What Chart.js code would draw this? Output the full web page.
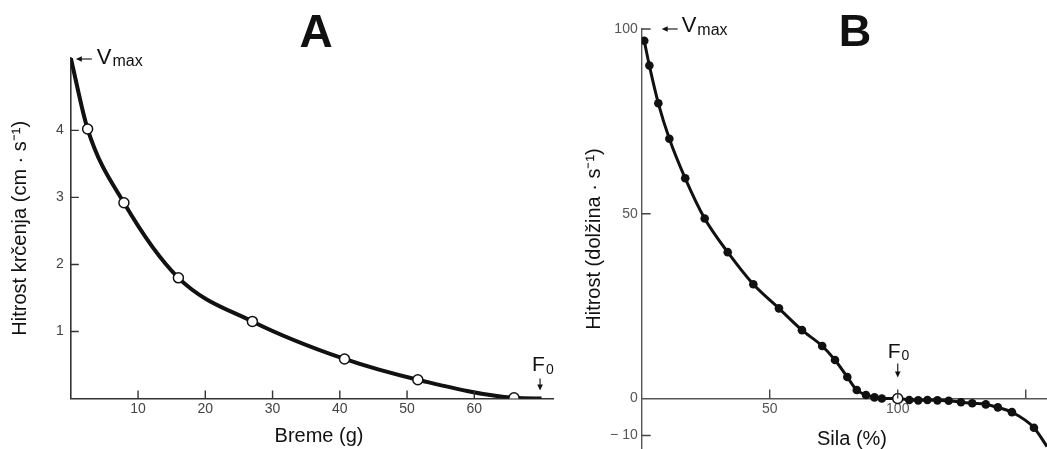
<!DOCTYPE html>
<html lang="sl">
<head>
<meta charset="UTF-8">
<title>Hitrost in breme / sila</title>
<script src="https://cdn.jsdelivr.net/npm/chart.js"></script>
<style>
  html, body { margin: 0; padding: 0; background: #fff; }
  body { width: 1047px; height: 449px; position: relative; overflow: hidden; }
  canvas { position: absolute; top: 0; }
  #chartA { left: 0; }
  #chartB { left: 570px; }
</style>
</head>
<body>
<canvas id="chartA" width="570" height="449"></canvas>
<canvas id="chartB" width="477" height="449"></canvas>
<script>
// A: breme (g) -> hitrost krcenja (cm/s), odprti krogci
const bremeG = [2.5, 7.9, 16.0, 27.0, 40.7, 51.6, 65.9];
const hitrostA = [4.02, 2.92, 1.80, 1.15, 0.59, 0.28, 0.01];
// krivulja A, odcitana od Vmax do F0
const krivuljaAx = [0, 2.5, 7.9, 16.0, 27.0, 40.7, 51.6, 65.9, 70];
const krivuljaAy = [5.08, 4.02, 2.92, 1.80, 1.15, 0.59, 0.28, 0.01, 0];
const yTicksA = [1, 2, 3, 4];
const xTicksA = [10, 20, 30, 40, 50, 60];

// B: sila (%) -> hitrost (dolzina/s), polni krogci
const silaB = [1.0, 3.0, 6.5, 10.8, 17.0, 24.6, 33.6, 43.6, 53.6, 62.6, 70.5, 75.5, 80.3, 84.0, 87.6, 90.9, 93.8,
               104.5, 108.0, 111.6, 115.5, 119.9, 124.7, 129.1, 134.4, 139.1, 144.6, 153.2];
const hitrostB = [96.8, 90.1, 79.9, 70.3, 59.6, 48.7, 39.6, 30.9, 24.4, 18.5, 14.2, 10.4, 5.8, 2.3, 0.95, 0.3, 0,
                  -0.4, -0.5, -0.4, -0.5, -0.6, -1.0, -1.3, -1.6, -2.4, -3.7, -7.9];
// F0 (odprti krogec)
const silaF0 = [100];
const hitrostF0 = [0];
// krivulja B
const krivuljaBx = [1.0, 3.0, 6.5, 10.8, 17.0, 24.6, 33.6, 43.6, 53.6, 62.6, 70.5, 75.5, 80.3, 84.0, 87.6, 90.9, 93.8, 100,
                    104.5, 108.0, 111.6, 115.5, 119.9, 124.7, 129.1, 134.4, 139.1, 144.6, 153.2, 158.3];
const krivuljaBy = [96.8, 90.1, 79.9, 70.3, 59.6, 48.7, 39.6, 30.9, 24.4, 18.5, 14.2, 10.4, 5.8, 2.3, 0.95, 0.3, 0, 0,
                    -0.4, -0.5, -0.4, -0.5, -0.6, -1.0, -1.3, -1.6, -2.4, -3.7, -7.9, -13.0];
const yTicksB = [-10, 0, 50, 100];
const xTicksB = [50, 100, 150];
const xLabelsB = ['50', '100', ''];

const FONT = "'Liberation Sans', Arial, sans-serif";
Chart.defaults.font.family = FONT;

const pts = (xs, ys) => xs.map((x, i) => ({ x, y: ys[i] }));

function arrow(ctx, x1, y1, x2, y2) {
  const a = Math.atan2(y2 - y1, x2 - x1), h = 6, w = 2.8;
  ctx.beginPath();
  ctx.moveTo(x1, y1);
  ctx.lineTo(x2 - Math.cos(a) * h * 0.7, y2 - Math.sin(a) * h * 0.7);
  ctx.stroke();
  ctx.beginPath();
  ctx.moveTo(x2, y2);
  ctx.lineTo(x2 - h * Math.cos(a) + w * Math.sin(a), y2 - h * Math.sin(a) - w * Math.cos(a));
  ctx.lineTo(x2 - h * Math.cos(a) - w * Math.sin(a), y2 - h * Math.sin(a) + w * Math.cos(a));
  ctx.closePath();
  ctx.fill();
}

function subText(ctx, x, y, main, sub, size, subSize, drop) {
  ctx.textAlign = 'left';
  ctx.textBaseline = 'alphabetic';
  ctx.font = size + 'px ' + FONT;
  ctx.fillText(main, x, y);
  const w = ctx.measureText(main).width;
  ctx.font = subSize + 'px ' + FONT;
  ctx.fillText(sub, x + w + 1, y + drop);
}

function innerTicks(chart, xs, ys, len, color) {
  const { ctx, chartArea, scales } = chart;
  const y0 = scales.y.getPixelForValue(Math.max(0, scales.y.min));
  ctx.save();
  ctx.strokeStyle = color;
  ctx.lineWidth = 1.4;
  ctx.beginPath();
  xs.forEach(v => {
    const px = scales.x.getPixelForValue(v);
    ctx.moveTo(px, y0);
    ctx.lineTo(px, y0 - len);
  });
  ys.forEach(v => {
    const py = scales.y.getPixelForValue(v);
    ctx.moveTo(chartArea.left, py);
    ctx.lineTo(chartArea.left + len, py);
  });
  ctx.stroke();
  ctx.restore();
}

const plugA = {
  id: 'plugA',
  afterDraw(chart) {
    const { ctx, scales } = chart;
    innerTicks(chart, xTicksA, yTicksA, 8, '#333');
    ctx.save();
    ctx.fillStyle = '#111';
    ctx.strokeStyle = '#222';
    ctx.lineWidth = 1.2;
    // Vmax
    const vx = scales.x.getPixelForValue(0), vy = scales.y.getPixelForValue(krivuljaAy[0]);
    arrow(ctx, vx + 21, vy + 1, vx + 5, vy + 1);
    subText(ctx, vx + 26, vy + 6, 'V', 'max', 22, 16, 2);
    // F0
    const fx = scales.x.getPixelForValue(70) - 1.5, fy = scales.y.getPixelForValue(0);
    arrow(ctx, fx, fy - 20, fx, fy - 8);
    subText(ctx, fx - 8, fy - 28, 'F', '0', 21, 14, 3);
    // naslov osi x
    ctx.font = '20px ' + FONT;
    ctx.textAlign = 'center';
    ctx.fillText('Breme (g)', 319, 442);
    // crka panela
    ctx.font = 'bold 46px ' + FONT;
    ctx.fillText('A', 316, 47);
    ctx.restore();
  }
};

const plugB = {
  id: 'plugB',
  afterDraw(chart) {
    const { ctx, scales } = chart;
    innerTicks(chart, xTicksB, [-10, 50, 100], 9, '#444');
    ctx.save();
    ctx.fillStyle = '#111';
    ctx.strokeStyle = '#222';
    ctx.lineWidth = 1.2;
    // Vmax
    const vx = scales.x.getPixelForValue(0), vy = scales.y.getPixelForValue(100);
    arrow(ctx, vx + 36, vy, vx + 20, vy);
    subText(ctx, vx + 40, vy + 3, 'V', 'max', 22, 16, 3);
    // F0
    const fx = scales.x.getPixelForValue(100), fy = scales.y.getPixelForValue(0);
    arrow(ctx, fx, fy - 35, fx, fy - 21);
    subText(ctx, fx - 10, fy - 40, 'F', '0', 21, 14, 2);
    // naslov osi x
    ctx.font = '20px ' + FONT;
    ctx.textAlign = 'center';
    ctx.fillText('Sila (%)', 282, 445);
    ctx.font = 'bold 45px ' + FONT;
    ctx.fillText('B', 285, 46);
    ctx.restore();
  }
};

new Chart(document.getElementById('chartA'), {
  type: 'scatter',
  data: {
    datasets: [
      { data: pts(bremeG, hitrostA), order: 0, pointRadius: 5, pointBackgroundColor: '#fff',
        pointBorderColor: '#111', pointBorderWidth: 1.5 },
      { data: pts(krivuljaAx, krivuljaAy), order: 1, showLine: true, borderColor: '#111', borderWidth: 4,
        pointRadius: 0, cubicInterpolationMode: 'monotone' }
    ]
  },
  options: {
    responsive: false,
    animation: false,
    layout: { autoPadding: false, padding: { top: 58, right: 17, left: 0, bottom: 0 } },
    plugins: { legend: { display: false }, tooltip: { enabled: false } },
    scales: {
      x: {
        type: 'linear', min: 0, max: 71.7,
        grid: { display: false, drawTicks: false },
        border: { color: '#333', width: 1.6 },
        afterBuildTicks: s => { s.ticks = xTicksA.map(v => ({ value: v })); },
        afterFit: s => { s.height = 50.5; s.paddingLeft = 0; s.paddingRight = 0; },
        ticks: { color: '#444', font: { size: 14 }, padding: 2, maxRotation: 0, autoSkip: false }
      },
      y: {
        type: 'linear', min: 0, max: 5.08,
        grid: { display: false, drawTicks: false },
        border: { color: '#333', width: 1.6 },
        afterBuildTicks: s => { s.ticks = yTicksA.map(v => ({ value: v })); },
        afterFit: s => { s.width = 70.8; s.paddingTop = 0; s.paddingBottom = 0; },
        ticks: { color: '#444', font: { size: 14 }, padding: 7 },
        title: { display: true, text: 'Hitrost krčenja (cm · s⁻¹)', color: '#111', font: { size: 20 }, padding: { top: 8, bottom: 0 } }
      }
    }
  },
  plugins: [plugA]
});

new Chart(document.getElementById('chartB'), {
  type: 'scatter',
  data: {
    datasets: [
      { data: pts(silaF0, hitrostF0), order: 0, pointRadius: 5, pointBackgroundColor: '#fff',
        pointBorderColor: '#111', pointBorderWidth: 1.5 },
      { data: pts(silaB, hitrostB), order: 1, pointRadius: 4.3, pointBackgroundColor: '#111',
        pointBorderColor: '#111', pointBorderWidth: 0 },
      { data: pts(krivuljaBx, krivuljaBy), order: 2, showLine: true, borderColor: '#111', borderWidth: 3,
        pointRadius: 0, cubicInterpolationMode: 'monotone' }
    ]
  },
  options: {
    responsive: false,
    animation: false,
    layout: { autoPadding: false, padding: { top: 29, right: 0, left: 0, bottom: 0 } },
    plugins: { legend: { display: false }, tooltip: { enabled: false } },
    scales: {
      x: {
        type: 'linear', min: 0, max: 158.3, position: { y: 0 },
        grid: { display: false, drawTicks: false },
        border: { color: '#555', width: 1.4 },
        afterBuildTicks: s => { s.ticks = xTicksB.map(v => ({ value: v })); },
        afterFit: s => { s.paddingLeft = 0; s.paddingRight = 0; },
        ticks: { color: '#555', font: { size: 14 }, padding: 2, maxRotation: 0, autoSkip: false,
                 callback: (v, i) => xLabelsB[i] }
      },
      y: {
        type: 'linear', min: -13.67, max: 100,
        grid: { display: false, drawTicks: false },
        border: { color: '#555', width: 1.4 },
        afterBuildTicks: s => { s.ticks = yTicksB.map(v => ({ value: v })); },
        afterFit: s => { s.width = 71.7; s.paddingTop = 0; s.paddingBottom = 0; },
        ticks: { color: '#555', font: { size: 14 }, padding: 4,
                 callback: v => v < 0 ? '− ' + Math.abs(v) : String(v) },
        title: { display: true, text: 'Hitrost (dolžina · s⁻¹)', color: '#111', font: { size: 20 }, padding: { top: 12, bottom: 0 } }
      }
    }
  },
  plugins: [plugB]
});
</script>
</body>
</html>
